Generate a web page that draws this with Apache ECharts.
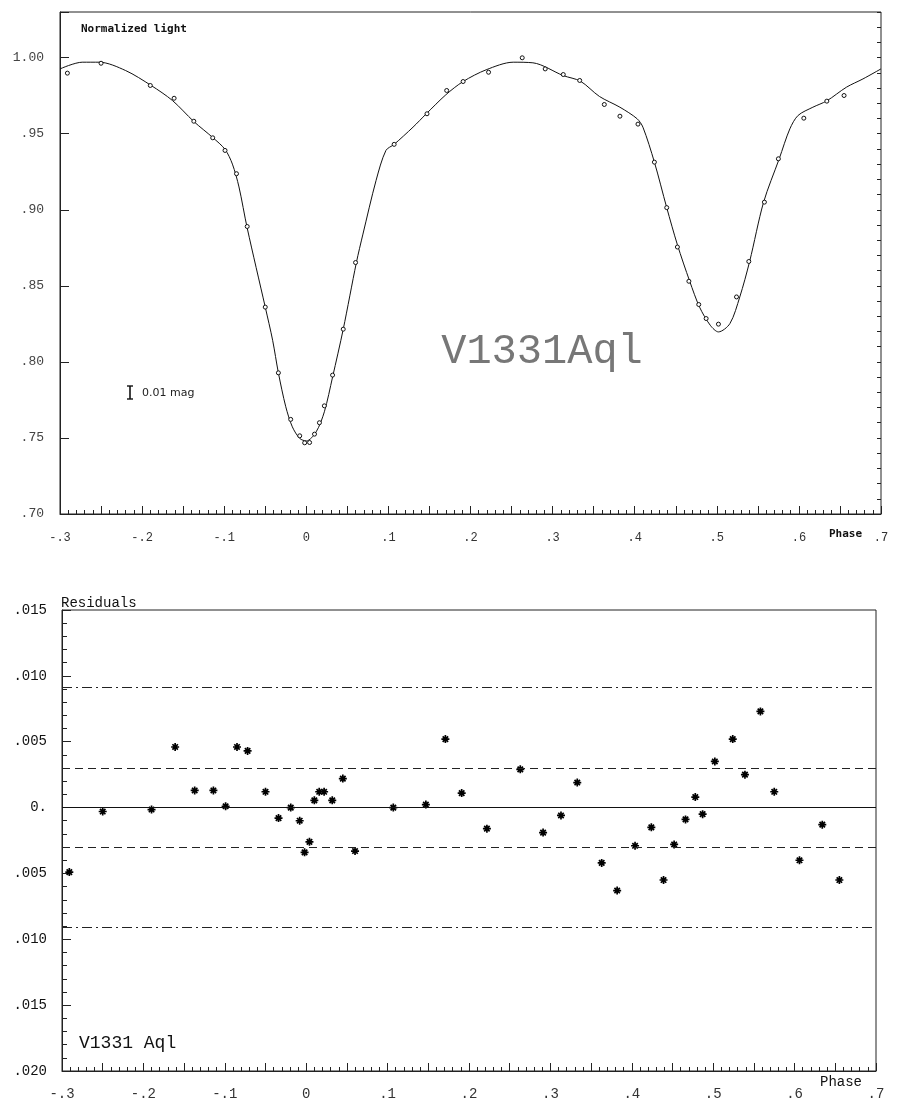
<!DOCTYPE html>
<html>
<head>
<meta charset="utf-8">
<title>V1331 Aql</title>
<script src="https://cdn.jsdelivr.net/npm/echarts@6/dist/echarts.min.js"></script>
<style>
html, body { margin: 0; padding: 0; background: #fff; }
#chart { width: 902px; height: 1101px; }
</style>
</head>
<body>
<div id="chart"></div>
<script>
// phases of the observed normal points (same for both panels)
var phases = [-0.291, -0.250, -0.190, -0.161, -0.137, -0.114, -0.099, -0.085, -0.072, -0.050,
  -0.034, -0.019, -0.008, -0.002, 0.004, 0.010, 0.016, 0.022, 0.032, 0.045,
  0.060, 0.107, 0.147, 0.171, 0.191, 0.222, 0.263, 0.291, 0.313, 0.333,
  0.363, 0.382, 0.404, 0.424, 0.439, 0.452, 0.466, 0.478, 0.487, 0.502,
  0.524, 0.539, 0.558, 0.575, 0.606, 0.634, 0.655];
// normalized light of the points
var lightObs = [0.9898, 0.9963, 0.9817, 0.9733, 0.9582, 0.9473, 0.9390, 0.9237, 0.8890, 0.8360,
  0.7928, 0.7622, 0.7514, 0.7468, 0.7470, 0.7525, 0.7600, 0.7711, 0.7913, 0.8215,
  0.8653, 0.9430, 0.9631, 0.9784, 0.9843, 0.9904, 0.9999, 0.9926, 0.9889, 0.9850,
  0.9692, 0.9615, 0.9563, 0.9313, 0.9014, 0.8755, 0.8530, 0.8377, 0.8285, 0.8248,
  0.8427, 0.8660, 0.9050, 0.9335, 0.9602, 0.9714, 0.9751];
// residuals (lower panel)
var residuals = [-0.0049, -0.0003, -0.00015, 0.0046, 0.0013, 0.0013, 0.0001, 0.0046, 0.0043, 0.0012,
  -0.0008, 0.0000, -0.0010, -0.0034, -0.0026, 0.00055, 0.0012, 0.0012, 0.00055, 0.0022,
  -0.0033, 0.0000, 0.00023, 0.0052, 0.0011, -0.0016, 0.0029, -0.0019, -0.0006, 0.0019,
  -0.0042, -0.0063, -0.0029, -0.0015, -0.0055, -0.0028, -0.0009, 0.0008, -0.0005, 0.0035,
  0.0052, 0.0025, 0.0073, 0.0012, -0.0040, -0.0013, -0.0055];

// fitted model curve
var modelPhase = [-0.300, -0.273, -0.252, -0.220, -0.189, -0.163, -0.137, -0.114, -0.099, -0.090,
  -0.082, -0.072, -0.050, -0.041, -0.034, -0.025, -0.017, -0.008, 0.000, 0.012,
  0.022, 0.032, 0.045, 0.061, 0.069, 0.085, 0.097, 0.107, 0.130, 0.146,
  0.170, 0.191, 0.219, 0.252, 0.276, 0.313, 0.334, 0.357, 0.382, 0.403,
  0.410, 0.424, 0.439, 0.452, 0.467, 0.479, 0.492, 0.502, 0.516, 0.528,
  0.540, 0.557, 0.576, 0.589, 0.599, 0.617, 0.634, 0.658, 0.678, 0.700];
var modelLight = [0.9926, 0.9970, 0.9970, 0.9915, 0.9817, 0.9718, 0.9580, 0.9475, 0.9397, 0.9300,
  0.9150, 0.8880, 0.8360, 0.8142, 0.7928, 0.7705, 0.7573, 0.7497, 0.7480, 0.7540,
  0.7672, 0.7900, 0.8215, 0.8653, 0.8840, 0.9193, 0.9390, 0.9430, 0.9543, 0.9630,
  0.9756, 0.9843, 0.9920, 0.9970, 0.9966, 0.9882, 0.9845, 0.9745, 0.9674, 0.9598,
  0.9543, 0.9313, 0.9014, 0.8770, 0.8530, 0.8360, 0.8241, 0.8197, 0.8252, 0.8427,
  0.8660, 0.9050, 0.9335, 0.9532, 0.9620, 0.9674, 0.9716, 0.9806, 0.9860, 0.9926];

// 1 sigma (dashed) and 3 sigma (dash-dot) levels
var sigma1 = 0.003;
var sigma3 = 0.0091;

// tick labels
var xLabels = ['-.3', '-.2', '-.1', '0', '.1', '.2', '.3', '.4', '.5', '.6', '.7'];
var topLabels = ['.70', '.75', '.80', '.85', '.90', '.95', '1.00'];
var resLabels = ['.020', '.015', '.010', '.005', '0.', '.005', '.010', '.015'];

var mono = '"Liberation Mono", "DejaVu Sans Mono", monospace';
var ink = '#222';

function pairs(xs, ys) {
  return xs.map(function (x, i) { return [x, ys[i]]; });
}

function phaseAxis(grid, fontSize, margin) {
  return {
    type: 'value', gridIndex: grid, min: -0.3, max: 0.7, interval: 0.05,
    axisLine: { onZero: false, lineStyle: { color: ink, width: 1 } },
    axisTick: { inside: true, length: 8, lineStyle: { color: ink } },
    minorTick: { show: true, splitNumber: 5, length: 4, lineStyle: { color: ink } },
    splitLine: { show: false },
    axisLabel: {
      margin: margin, color: '#333', fontFamily: mono, fontSize: fontSize,
      formatter: function (v) {
        var k = Math.round((v + 0.3) / 0.05);
        return k % 2 ? '' : (xLabels[k / 2] || '');
      }
    }
  };
}

var asterisk = 'path://M0,5L10,5M5,0L5,10M1.6,1.6L8.4,8.4M8.4,1.6L1.6,8.4';

var chart = echarts.init(document.getElementById('chart'));
chart.setOption({
  animation: false,
  backgroundColor: '#fff',
  grid: [
    { left: 60, right: 21, top: 12, bottom: 587, show: true, borderColor: ink, borderWidth: 1 },
    { left: 62, right: 26, top: 610, bottom: 29, show: true, borderColor: ink, borderWidth: 1 }
  ],
  xAxis: [phaseAxis(0, 12, 18), phaseAxis(1, 14, 16)],
  yAxis: [
    {
      type: 'value', gridIndex: 0, min: 0.70, max: 1.03, interval: 0.05,
      axisLine: { onZero: false, lineStyle: { color: ink } },
      axisTick: { inside: true, length: 9, lineStyle: { color: ink } },
      splitLine: { show: false },
      axisLabel: {
        margin: 16, color: '#444', fontFamily: mono, fontSize: 13,
        formatter: function (v) { return topLabels[Math.round((v - 0.70) / 0.05)] || ''; }
      }
    },
    {
      type: 'value', gridIndex: 0, min: 0.70, max: 1.03, interval: 0.01,
      axisLine: { show: false, onZero: false },
      axisTick: { inside: true, length: 4, lineStyle: { color: ink } },
      splitLine: { show: false },
      axisLabel: { show: false }
    },
    {
      type: 'value', gridIndex: 1, min: -0.020, max: 0.015, interval: 0.005,
      axisLine: { onZero: false, lineStyle: { color: ink } },
      axisTick: { inside: true, length: 9, lineStyle: { color: ink } },
      minorTick: { show: true, splitNumber: 5, length: 5, lineStyle: { color: ink } },
      splitLine: { show: false },
      axisLabel: {
        margin: 15, color: '#111', fontFamily: mono, fontSize: 14,
        formatter: function (v) { return resLabels[Math.round((v + 0.020) / 0.005)] || ''; }
      }
    }
  ],
  series: [
    {
      name: 'model', type: 'line', xAxisIndex: 0, yAxisIndex: 0,
      data: pairs(modelPhase, modelLight), showSymbol: false, smooth: 0.3,
      lineStyle: { color: '#111', width: 1 }, silent: true, z: 2
    },
    {
      name: 'observed', type: 'scatter', xAxisIndex: 0, yAxisIndex: 0,
      data: pairs(phases, lightObs), symbol: 'circle', symbolSize: 4,
      itemStyle: { color: '#fff', borderColor: '#111', borderWidth: 1, opacity: 1 }, z: 3
    },
    {
      name: 'residuals', type: 'scatter', xAxisIndex: 1, yAxisIndex: 2,
      data: pairs(phases, residuals), symbol: asterisk, symbolSize: 8,
      itemStyle: { color: '#000', borderColor: '#000', borderWidth: 1.7, opacity: 1 }, z: 3,
      markLine: {
        silent: true, precision: 5, symbol: ['none', 'none'], label: { show: false },
        data: [
          { yAxis: 0, lineStyle: { type: 'solid', color: '#111', width: 1.2 } },
          { yAxis: sigma1, lineStyle: { type: [8, 5], color: '#222', width: 1 } },
          { yAxis: -sigma1, lineStyle: { type: [8, 5], color: '#222', width: 1 } },
          { yAxis: sigma3, lineStyle: { type: [10, 4, 2, 4], color: '#222', width: 1 } },
          { yAxis: -sigma3, lineStyle: { type: [10, 4, 2, 4], color: '#222', width: 1 } }
        ]
      }
    }
  ],
  graphic: [
    { type: 'text', x: 81, y: 29, style: { text: 'Normalized light', font: 'bold 11px "DejaVu Sans Mono"', fill: '#111', verticalAlign: 'middle' } },
    { type: 'text', x: 542, y: 352, style: { text: 'V1331Aql', font: '42px "Liberation Mono"', fill: '#777', align: 'center', verticalAlign: 'middle' } },
    { type: 'line', shape: { x1: 130, y1: 386, x2: 130, y2: 399 }, style: { stroke: '#111', lineWidth: 1.6 } },
    { type: 'line', shape: { x1: 127, y1: 386, x2: 133, y2: 386 }, style: { stroke: '#111', lineWidth: 1.4 } },
    { type: 'line', shape: { x1: 127, y1: 399, x2: 133, y2: 399 }, style: { stroke: '#111', lineWidth: 1.4 } },
    { type: 'text', x: 142, y: 393, style: { text: '0.01 mag', font: '11px "DejaVu Sans"', fill: '#222', verticalAlign: 'middle' } },
    { type: 'text', x: 829, y: 534, style: { text: 'Phase', font: 'bold 11px "DejaVu Sans Mono"', fill: '#111', verticalAlign: 'middle' } },
    { type: 'text', x: 61, y: 603, style: { text: 'Residuals', font: '14px "Liberation Mono"', fill: '#111', verticalAlign: 'middle' } },
    { type: 'text', x: 79, y: 1043, style: { text: 'V1331 Aql', font: '18px "Liberation Mono"', fill: '#111', verticalAlign: 'middle' } },
    { type: 'text', x: 820, y: 1082, style: { text: 'Phase', font: '14px "Liberation Mono"', fill: '#111', verticalAlign: 'middle' } }
  ]
});
</script>
</body>
</html>
